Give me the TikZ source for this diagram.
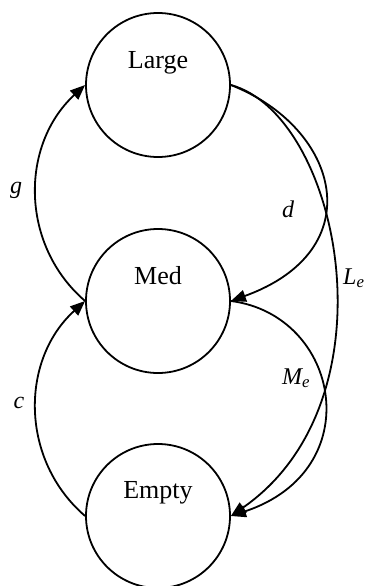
\documentclass[tikz,border=0pt]{standalone}
\usepackage{fontspec}
\setmainfont{Liberation Serif}
\usetikzlibrary{arrows.meta}
\begin{document}
\begin{tikzpicture}[x=1pt,y=-1pt,
  state/.style={circle,draw,line width=1.8pt,minimum size=144pt,inner sep=0pt},
  ctext/.style={font=\fontsize{26}{30}\selectfont,inner sep=0pt,anchor=base},
  lbl/.style={font=\fontsize{24}{28}\selectfont\itshape,inner sep=0pt},
  edge/.style={line width=1.8pt,-{Triangle[length=15pt,width=12pt]}}]
\useasboundingbox (0,0) rectangle (368,586);
\node[state] (L) at (158,85) {};
\node[state] (M) at (158,301) {};
\node[state] (E) at (158,516) {};
\node[ctext] (Lt) at (158,68) {Large};
\node[ctext] (Mt) at (158,284) {Med};
\node[ctext] (Et) at (158,498) {Empty};
% edges
\draw[edge] (M.west) .. controls (20,245) and (20,145) .. (L.west);
\draw[edge] (E.west) .. controls (20,460) and (20,360) .. (M.west);
\draw[edge] (L.east) .. controls (340,128) and (372,250) .. (M.east);
\draw[edge] (L.east) .. controls (340,115) and (398,400) .. (E.east);
\draw[edge] (M.east) .. controls (340,315) and (370,470) .. (E.east);
% labels
\node[lbl,anchor=base] (gl) at (16,193) {g};
\node[lbl,anchor=base] (dl) at (288,217) {d};
\node[lbl,anchor=base west] (Ll) at (343,284) {L\textsubscript{e}};
\node[lbl,anchor=base west] (Ml) at (282,384) {M\textsubscript{e}};
\node[lbl,anchor=base] (cl) at (19,408) {c};
\end{tikzpicture}
\end{document}
